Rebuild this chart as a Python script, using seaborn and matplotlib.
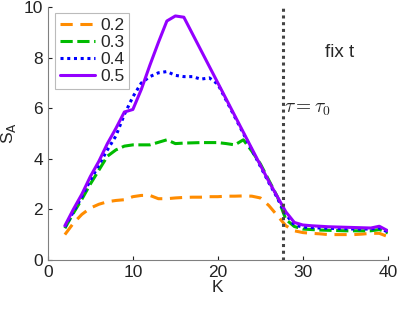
import matplotlib
matplotlib.use("Agg")
import matplotlib.pyplot as plt
import numpy as np
import pandas as pd
import seaborn as sns

# K values and S_A curves for each parameter value
k_vals = list(range(2, 41))

s_02 = [1.00, 1.45, 1.80, 2.05, 2.20, 2.30, 2.35, 2.38, 2.50, 2.55,
        2.55, 2.42, 2.42, 2.45, 2.47, 2.48, 2.48, 2.50, 2.50, 2.52,
        2.52, 2.53, 2.52, 2.45, 2.15, 1.75, 1.35, 1.15, 1.08, 1.05,
        1.03, 1.00, 1.00, 1.00, 1.00, 1.02, 1.05, 1.05, 0.92]
s_03 = [1.25, 1.85, 2.40, 3.00, 3.55, 4.10, 4.35, 4.50, 4.55, 4.55,
        4.55, 4.65, 4.75, 4.60, 4.62, 4.63, 4.64, 4.64, 4.64, 4.60,
        4.55, 4.75, 4.30, 3.80, 3.15, 2.50, 1.60, 1.32, 1.22, 1.20,
        1.18, 1.17, 1.16, 1.15, 1.15, 1.15, 1.15, 1.20, 1.07]
s_04 = [1.30, 1.90, 2.50, 3.15, 3.75, 4.35, 4.90, 5.75, 6.45, 7.00,
        7.25, 7.40, 7.45, 7.30, 7.25, 7.25, 7.15, 7.20, 6.95, 6.30,
        5.65, 5.00, 4.35, 3.70, 3.05, 2.45, 1.80, 1.38, 1.30, 1.28,
        1.26, 1.25, 1.24, 1.23, 1.22, 1.22, 1.22, 1.26, 1.10]
s_05 = [1.35, 2.00, 2.60, 3.30, 3.90, 4.60, 5.20, 5.85, 5.95, 6.75,
        7.70, 8.60, 9.45, 9.65, 9.60, 8.95, 8.30, 7.65, 7.00, 6.35,
        5.70, 5.05, 4.40, 3.75, 3.10, 2.50, 1.90, 1.48, 1.38, 1.35,
        1.33, 1.31, 1.30, 1.29, 1.28, 1.27, 1.26, 1.33, 1.15]

series_names = ["0.2", "0.3", "0.4", "0.5"]
series_vals = [s_02, s_03, s_04, s_05]
series_colors = ["#FF8C00", "#00BB00", "#0000FF", "#9400FF"]
series_dash = [(4, 2.5), (4, 1.5), (1, 1.2), ""]

tau0 = 27.7

sns.set_style("ticks")
plt.rcParams["font.family"] = ["Liberation Sans", "DejaVu Sans"]

fig = plt.figure(figsize=(3.99, 3.09), dpi=100)
ax = fig.add_axes([0.12, 0.159, 0.852, 0.818])

for name, vals, col, dash in zip(series_names, series_vals, series_colors, series_dash):
    df = pd.DataFrame({"K": k_vals, "S": vals})
    sns.lineplot(data=df, x="K", y="S", ax=ax, color=col, linewidth=2.2, label=name)
    ln = ax.lines[-1]
    if dash:
        ln.set_dashes(dash)

ax.axvline(tau0, color="#444444", linestyle=(0, (1, 1.2)), linewidth=2.2)
ax.text(34.3, 8.2, "fix t", fontsize=13.5, ha="center", va="center")
ax.text(27.8, 5.95, r"$\tau=\tau_0$", fontsize=14, ha="left", va="center",
        math_fontfamily="cm")

ax.set_xlim(0, 40)
ax.set_ylim(0, 10)
ax.set_xticks([0, 10, 20, 30, 40])
ax.set_yticks([0, 2, 4, 6, 8, 10])
ax.set_xlabel("K", fontsize=12.5, labelpad=0)
ax.set_ylabel(r"S$_\mathrm{A}$", fontsize=12.5, labelpad=4)
ax.tick_params(direction="in", length=3, labelsize=12.5, colors="#222222")
for s in ["left", "bottom"]:
    ax.spines[s].set_color("#808080")
    ax.spines[s].set_linewidth(0.8)
sns.despine(ax=ax)

leg = ax.legend(loc="upper left", bbox_to_anchor=(0.01, 0.99), fontsize=12.5,
                frameon=True, fancybox=False, edgecolor="#aaaaaa",
                handlelength=2.0, handletextpad=0.3, borderpad=0.3,
                labelspacing=0.1, borderaxespad=0.2)
leg.get_frame().set_linewidth(0.8)

fig.savefig("out.png", dpi=100)
